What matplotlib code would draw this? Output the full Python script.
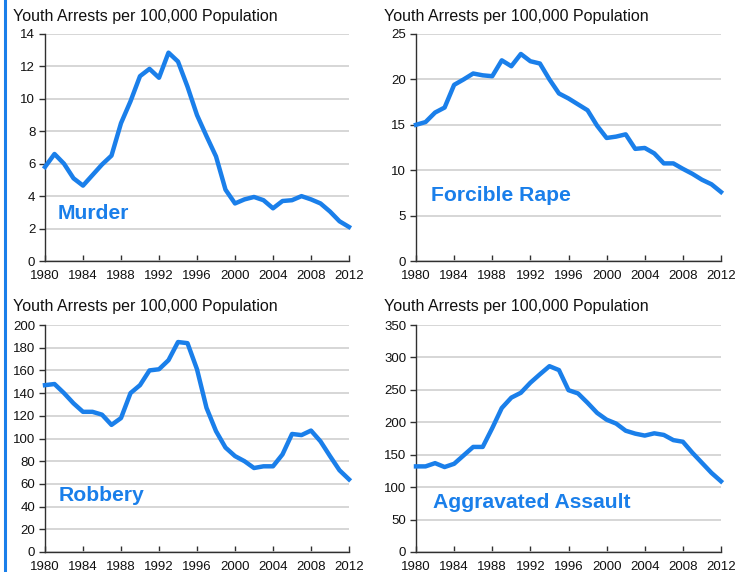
import matplotlib
matplotlib.use('Agg')
import matplotlib.pyplot as plt
from matplotlib.lines import Line2D

plt.rcParams['font.family'] = ['Liberation Sans', 'DejaVu Sans']

# ── data ──
YEARS = list(range(1980, 2013))

MURDER = [5.8, 6.6, 6.0, 5.1, 4.65, 5.3, 5.95, 6.5, 8.5, 9.85, 11.4, 11.85, 11.3,
          12.85, 12.3, 10.75, 9.0, 7.7, 6.45, 4.4, 3.55, 3.8, 3.95, 3.75, 3.25,
          3.7, 3.75, 4.0, 3.8, 3.55, 3.05, 2.45, 2.1]
RAPE = [15.0, 15.3, 16.35, 16.9, 19.4, 20.0, 20.65, 20.45, 20.35, 22.1, 21.45,
        22.8, 22.0, 21.75, 20.0, 18.45, 17.9, 17.25, 16.6, 14.9, 13.55, 13.7,
        13.95, 12.35, 12.45, 11.85, 10.75, 10.75, 10.15, 9.6, 8.95, 8.45, 7.6]
ROBBERY = [147, 148, 140, 131, 123.5, 123.5, 121, 112, 118, 140, 147, 160, 161,
           169, 185, 184, 161, 127, 106.5, 92, 84.5, 80, 74, 75.5, 75.5, 86,
           104, 103, 107, 97.5, 84.5, 72, 64]
ASSAULT = [132, 132, 137, 131, 136, 149, 162, 162, 191, 222, 238, 245.5, 261,
           274, 286.5, 280.5, 249.5, 244.5, 230, 214.5, 204, 198, 187, 182.5,
           179.5, 183, 180.5, 172.5, 170, 153, 137.5, 122, 109]

NAMES = ['Murder', 'Forcible Rape', 'Robbery', 'Aggravated Assault']
SERIES = [MURDER, RAPE, ROBBERY, ASSAULT]
YMAX = [14, 25, 200, 350]
YSTEP = [2, 5, 20, 50]
XTICKS = list(range(1980, 2013, 4))
TITLE = 'Youth Arrests per 100,000 Population'

BLUE = '#1A7FEA'
GRID = '#CFCFCF'
AXIS = '#303030'

# ── layout (figure fraction) ──
W, H = 744, 572
POS = [(45, 34, 349, 261), (416, 34, 721, 261),
       (45, 325, 349, 552), (416, 325, 721, 552)]
TITLE_XY = [(13, 17), (384, 17), (13, 306), (384, 306)]
LABEL_XY = [(0.04, 0.21), (0.05, 0.29), (0.046, 0.247), (0.056, 0.216)]

fig = plt.figure(figsize=(W / 100, H / 100), dpi=100, facecolor='white')

for i in range(4):
    x0, y0, x1, y1 = POS[i]
    ax = fig.add_axes([x0 / W, 1 - y1 / H, (x1 - x0) / W, (y1 - y0) / H])
    ax.plot(YEARS, SERIES[i], color=BLUE, linewidth=3.2, solid_joinstyle='round',
            zorder=3, clip_on=False)
    ax.set_xlim(1980, 2012)
    ax.set_ylim(0, YMAX[i])
    ax.set_yticks(range(0, YMAX[i] + 1, YSTEP[i]))
    ax.set_xticks(XTICKS)
    ax.yaxis.grid(True, color=GRID, linewidth=1.2)
    ax.set_axisbelow(True)
    for s in ['top', 'right']:
        ax.spines[s].set_visible(False)
    for s in ['left', 'bottom']:
        ax.spines[s].set_color(AXIS)
        ax.spines[s].set_linewidth(1.0)
    ax.tick_params(axis='y', direction='out', length=4, width=1.0, color=AXIS,
                   labelsize=9.5, pad=3, labelcolor='#111111')
    ax.tick_params(axis='x', direction='in', length=4, width=1.0, color=AXIS,
                   labelsize=9.5, pad=6.5, labelcolor='#111111')
    ax.text(LABEL_XY[i][0], LABEL_XY[i][1], NAMES[i], transform=ax.transAxes,
            fontsize=15.2, fontweight='bold', color=BLUE, va='center', ha='left')
    fig.text(TITLE_XY[i][0] / W, 1 - TITLE_XY[i][1] / H, TITLE,
             fontsize=11.5, color='#111111', va='center', ha='left')

# blue rule on left edge
fig.add_artist(Line2D([5 / W, 5 / W], [0, 1], color=BLUE, linewidth=2.2))

fig.savefig('out.png', dpi=100, facecolor='white')
